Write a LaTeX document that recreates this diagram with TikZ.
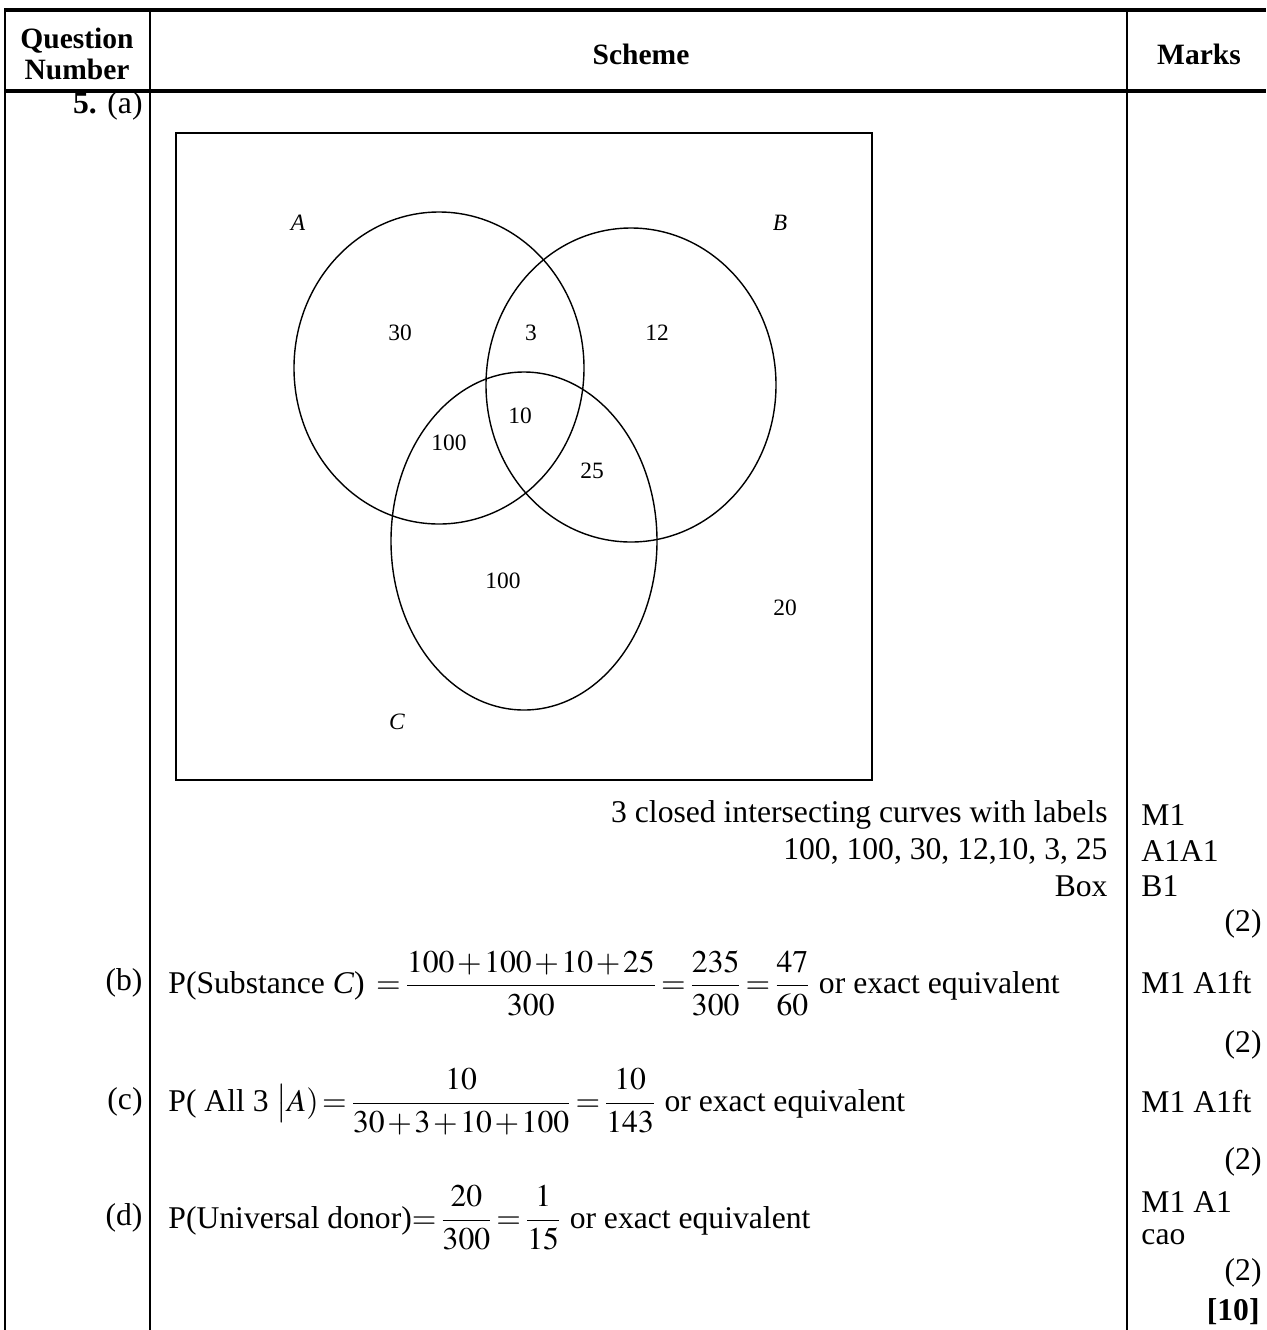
\documentclass[12pt,tikz,border=0pt]{standalone}
\usepackage{amsmath}
\usepackage{mathptmx}
\usepackage[no-math]{fontspec}
\setmainfont{Liberation Serif}
\usetikzlibrary{positioning}

\tikzset{
  rule/.style={line width=1.1pt},
  heavyrule/.style={line width=1.7pt},
  setline/.style={line width=0.6pt},
  headtxt/.style={font=\fontsize{12.6}{15}\selectfont\bfseries, inner sep=0pt},
  venntxt/.style={font=\fontsize{10}{12}\selectfont, inner sep=0pt},
  lefttxt/.style={anchor=west, inner sep=0pt},
  righttxt/.style={anchor=east, inner sep=0pt},
}
\newcommand{\tightmath}{\thickmuskip=2mu plus 1mu\medmuskip=1.5mu}

\begin{document}
\begin{tikzpicture}[x=0.015cm, y=-0.015cm, font=\fontsize{13.5}{16}\selectfont]
  \useasboundingbox (0,0) rectangle (1266,1330);
  % table rules
  \draw[heavyrule] (4,10) -- (1266,10);
  \draw[heavyrule] (4,91) -- (1266,91);
  \foreach \x in {5,150,1127}
    \draw[rule] (\x,10) -- (\x,1330);
  % headings
  \node[headtxt, align=center] (hnum) at (77,54) {Question\\[-2pt]Number};
  \node[headtxt] (hscheme) at (641,54) {Scheme};
  \node[headtxt] (hmarks) at (1199,54) {Marks};
  % question parts
  \node[righttxt] (qa) at (143,106) {\textbf{5.} (a)};
  \node[righttxt] (qb) at (143,983) {(b)};
  \node[righttxt] (qc) at (143,1102) {(c)};
  \node[righttxt] (qd) at (143,1218) {(d)};
  % venn diagram
  \draw[setline] (176,133) rectangle (872,780);
  \draw[setline] (439,368) ellipse [x radius=145, y radius=156];
  \draw[setline] (631,385) ellipse [x radius=145, y radius=157];
  \draw[setline] (524,541) ellipse [x radius=133, y radius=169];
  \node[venntxt] (setA) at (298,223) {\textit{A}};
  \node[venntxt] (setB) at (780,223) {\textit{B}};
  \node[venntxt] (setC) at (397,722) {\textit{C}};
  \foreach \px/\py/\v [count=\i] in {400/333/30, 531/333/3, 657/333/12, 520/416/10,
      449/443/100, 592/471/25, 503/581/100, 785/608/20}
    \node[venntxt] (reg\i) at (\px,\py) {\v};
  % criteria for (a)
  \node[righttxt] (crit1) at (1108,815) {3 closed intersecting curves with labels};
  \node[righttxt] (crit2) at (1108,851) {100, 100, 30, 12,10, 3, 25};
  \node[righttxt] (crit3) at (1108,886) {Box};
  % working
  \node[lefttxt] (workb) at (168,983)
    {\tightmath P(Substance \textit{C}) ${}=\dfrac{100+100+10+25}{300}=\dfrac{235}{300}=\dfrac{47}{60}$ or exact equivalent};
  \node[lefttxt] (workc) at (168,1102)
    {\tightmath P( All 3 $\big|A)=\dfrac{10}{30+3+10+100}=\dfrac{10}{143}$ or exact equivalent};
  \node[lefttxt] (workd) at (168,1218)
    {\tightmath P(Universal donor)$=\dfrac{20}{300}=\dfrac{1}{15}$ or exact equivalent};
  % marks
  \foreach \py/\m [count=\i] in {815/M1, 851/A1A1, 886/B1, 983/M1 A1ft,
      1102/M1 A1ft, 1202/M1 A1, 1237/cao}
    \node[lefttxt] (mark\i) at (1141,\py) {\m};
  \foreach \py [count=\i] in {924,1045,1162,1273}
    \node[righttxt] (tot\i) at (1262,\py) {(2)};
  \node[righttxt] (total) at (1260,1312) {\textbf{[10]}};
\end{tikzpicture}
\end{document}
